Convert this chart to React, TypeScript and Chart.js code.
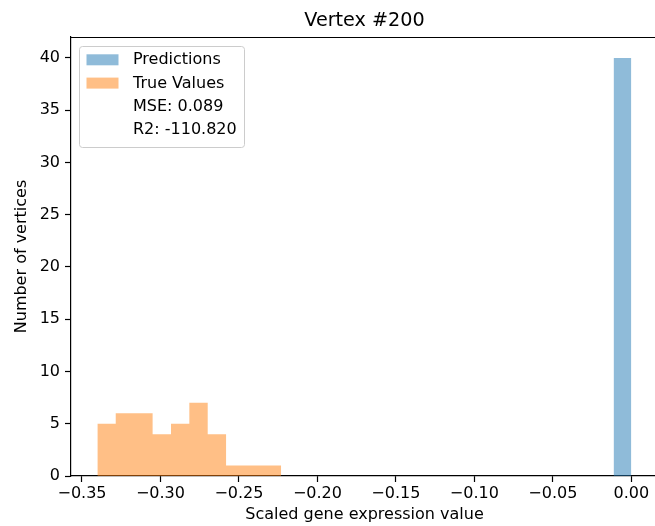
import React, { useEffect, useRef } from "react";
import { Chart, registerables } from "chart.js";

Chart.register(...registerables);

// ---- data ----
const chartTitle = "Vertex #200";
const xAxisLabel = "Scaled gene expression value";
const yAxisLabel = "Number of vertices";
const seriesLabels = ["Predictions", "True Values"];
const statLines = ["MSE: 0.089", "R2: -110.820"];

// histogram bin edges and counts
const predEdges = [-0.0113, 0.0];
const predCounts = [40];
const trueEdges = [-0.3402, -0.3285, -0.3168, -0.3050, -0.2933, -0.2816, -0.2699, -0.2582, -0.2465, -0.2348, -0.2231];
const trueCounts = [5, 6, 6, 4, 5, 7, 4, 1, 1, 1];

const xMin = -0.357;
const xMax = 0.017;
const xStep = 0.05;
const yMin = 0;
const yMax = 42;
const yStep = 5;

const predColor = "rgba(31,119,180,0.5)";
const trueColor = "rgba(255,127,14,0.5)";
const FONT = '"DejaVu Sans", sans-serif';
const FS = 16;

function histPoints(edges: number[], counts: number[]) {
  return edges.map((e, i) => ({ x: e, y: i < counts.length ? counts[i] : counts[counts.length - 1] }));
}

const decorPlugin = {
  id: "decor",
  afterDraw(chart: any) {
    const { ctx, chartArea: ca } = chart;
    ctx.save();
    ctx.strokeStyle = "#000";
    ctx.lineWidth = 1.2;
    ctx.beginPath();
    ctx.moveTo(ca.left, ca.top + 0.5);
    ctx.lineTo(ca.right, ca.top + 0.5);
    ctx.stroke();

    ctx.fillStyle = "#000";
    ctx.font = `19.2px ${FONT}`;
    ctx.textAlign = "center";
    ctx.textBaseline = "middle";
    ctx.fillText(chartTitle, (ca.left + ca.right) / 2, 21);

    const bx = ca.left + 8.5;
    const by = ca.top + 9.5;
    const bw = 165;
    const bh = 101;
    const r = 3;
    ctx.beginPath();
    ctx.moveTo(bx + r, by);
    ctx.lineTo(bx + bw - r, by);
    ctx.arcTo(bx + bw, by, bx + bw, by + r, r);
    ctx.lineTo(bx + bw, by + bh - r);
    ctx.arcTo(bx + bw, by + bh, bx + bw - r, by + bh, r);
    ctx.lineTo(bx + r, by + bh);
    ctx.arcTo(bx, by + bh, bx, by + bh - r, r);
    ctx.lineTo(bx, by + r);
    ctx.arcTo(bx, by, bx + r, by, r);
    ctx.closePath();
    ctx.fillStyle = "rgba(255,255,255,0.8)";
    ctx.fill();
    ctx.strokeStyle = "#cccccc";
    ctx.lineWidth = 1;
    ctx.stroke();

    const rows = [
      ...chart.data.datasets.map((d: any) => ({ text: d.label, color: d.backgroundColor })),
      ...statLines.map((t) => ({ text: t, color: null })),
    ];
    ctx.font = `${FS}px ${FONT}`;
    ctx.textAlign = "left";
    ctx.textBaseline = "middle";
    rows.forEach((row: any, i: number) => {
      const cy = by + 13.3 + i * 23.3;
      if (row.color) {
        ctx.fillStyle = "#fff";
        ctx.fillRect(bx + 7, cy - 5.5, 32, 11);
        ctx.fillStyle = row.color;
        ctx.fillRect(bx + 7, cy - 5.5, 32, 11);
      }
      ctx.fillStyle = "#000";
      ctx.fillText(row.text, bx + 53.5, cy + 0.5);
    });
    ctx.restore();
  },
};

function fmtX(v: number) {
  const s = Math.abs(v).toFixed(2);
  return v < -1e-9 ? "\u2212" + s : s;
}

export default function App() {
  const ref = useRef<HTMLCanvasElement | null>(null);

  useEffect(() => {
    if (!ref.current) return;
    Chart.defaults.color = "#000";
    const mkDataset = (label: string, edges: number[], counts: number[], color: string) => ({
      label,
      data: histPoints(edges, counts),
      stepped: "before",
      fill: "origin",
      backgroundColor: color,
      borderColor: "transparent",
      borderWidth: 0,
      pointRadius: 0,
    });
    const tickGrid = {
      drawOnChartArea: false,
      drawTicks: true,
      tickLength: 6,
      tickColor: "#000",
      tickWidth: 1.2,
    };
    const chart = new Chart(ref.current, {
      type: "line",
      data: {
        datasets: [
          mkDataset(seriesLabels[0], predEdges, predCounts, predColor),
          mkDataset(seriesLabels[1], trueEdges, trueCounts, trueColor),
        ],
      } as any,
      options: {
        animation: false,
        responsive: false,
        layout: { padding: { top: 37, right: 60, left: 0, bottom: 0 } },
        plugins: {
          legend: { display: false },
          title: { display: false },
          tooltip: { enabled: false },
        },
        scales: {
          x: {
            type: "linear",
            min: xMin,
            max: xMax,
            afterFit: (s: any) => {
              s.height = 50;
            },
            grid: tickGrid,
            border: { display: true, color: "#000", width: 1.2 },
            ticks: {
              stepSize: xStep,
              includeBounds: false,
              maxRotation: 0,
              padding: 2,
              color: "#000",
              font: { family: FONT, size: FS },
              callback: (v: any) => fmtX(Number(v)),
            },
            title: {
              display: true,
              text: xAxisLabel,
              color: "#000",
              font: { family: FONT, size: FS },
              padding: { top: 0, bottom: 1.5 },
            },
          },
          y: {
            type: "linear",
            min: yMin,
            max: yMax,
            afterFit: (s: any) => {
              s.width = 71;
            },
            grid: tickGrid,
            border: { display: true, color: "#000", width: 1.2 },
            ticks: {
              stepSize: yStep,
              includeBounds: false,
              padding: 5,
              color: "#000",
              font: { family: FONT, size: FS },
              callback: (v: any) => String(v),
            },
            title: {
              display: true,
              text: yAxisLabel,
              color: "#000",
              font: { family: FONT, size: FS },
              padding: { top: 12.5, bottom: 0 },
            },
          },
        },
      } as any,
      plugins: [decorPlugin],
    });
    return () => chart.destroy();
  }, []);

  return (
    <div
      style={{
        position: "fixed",
        left: 0,
        top: 0,
        width: 655,
        height: 526,
        overflow: "hidden",
        background: "#fff",
      }}
    >
      <canvas ref={ref} width={718} height={526} style={{ display: "block", width: 718, height: 526 }} />
    </div>
  );
}
